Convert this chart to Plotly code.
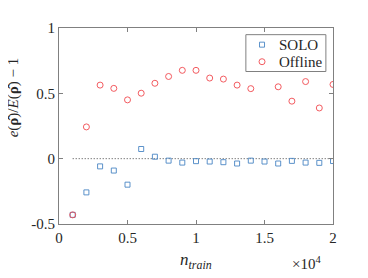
import plotly.graph_objects as go

n_train = [1000, 2000, 3000, 4000, 5000, 6000, 7000, 8000, 9000, 10000,
           11000, 12000, 13000, 14000, 15000, 16000, 17000, 18000, 19000, 20000]
solo = [-0.43, -0.258, -0.059, -0.091, -0.199, 0.074, 0.015, -0.015, -0.03, -0.019,
        -0.022, -0.027, -0.037, -0.015, -0.022, -0.037, -0.017, -0.03, -0.032, -0.018]
offline = [-0.43, 0.243, 0.563, 0.538, 0.45, 0.501, 0.577, 0.629, 0.676, 0.676,
           0.617, 0.609, 0.563, 0.536, None, 0.55, 0.44, 0.59, 0.388, 0.568]
series_names = ["SOLO", "Offline"]
x_ticks = [0, 5000, 10000, 15000, 20000]
x_ticktext = ["0", "0.5", "1", "1.5", "2"]
y_ticks = [-0.5, 0, 0.5, 1]
y_ticktext = ["-0.5", "0", "0.5", "1"]

FONT = "Liberation Serif"
AX = "#808080"
TXT = "#262626"
BLUE = "#4a86c4"
RED = "#f04a4f"
SQ = dict(symbol="square-open", size=5, color=BLUE, line=dict(width=0.9))
CI = dict(symbol="circle-open", size=6, color=RED, line=dict(width=0.9))

fig = go.Figure()
fig.add_shape(type="line", x0=n_train[0], x1=n_train[-1], y0=0, y1=0,
              line=dict(color="#444444", width=1, dash="1px,2px"), layer="below")
fig.add_trace(go.Scatter(x=n_train, y=solo, mode="markers", name=series_names[0],
                         marker=SQ, showlegend=False))
fig.add_trace(go.Scatter(x=n_train, y=offline, mode="markers", name=series_names[1],
                         marker=CI, showlegend=False))

# Hand-built legend (compact, MATLAB-like)
leg_x0, leg_x1, leg_y0, leg_y1 = 0.682, 0.974, 0.778, 0.966
key_x, text_x = 0.741, 0.796
row_y = [0.915, 0.828]
fig.add_shape(type="rect", xref="paper", yref="paper", x0=leg_x0, x1=leg_x1,
              y0=leg_y0, y1=leg_y1, line=dict(color=AX, width=1),
              fillcolor="white", layer="below")
for name, mk, yy in zip(series_names, [SQ, CI], row_y):
    fig.add_trace(go.Scatter(x=[key_x], y=[yy], mode="markers", marker=mk,
                             xaxis="x2", yaxis="y2", showlegend=False, hoverinfo="skip"))

axis_common = dict(showgrid=False, zeroline=False, showline=True, linecolor=AX,
                   linewidth=1, mirror="ticks", ticks="inside", ticklen=4,
                   tickcolor=AX, tickfont=dict(family=FONT, size=15, color=TXT))
fig.update_xaxes(range=[0, 20000], tickvals=x_ticks, ticktext=x_ticktext, **axis_common)
fig.update_yaxes(range=[-0.5, 1], tickvals=y_ticks, ticktext=y_ticktext, **axis_common)

annotations = [
    dict(text="<i>e</i>(<b>ρ̂</b>)/<i>E</i>(<b>ρ̂</b>) − 1", textangle=-90,
         xref="paper", yref="paper", x=-0.165, y=0.645,
         xanchor="center", yanchor="middle", showarrow=False,
         font=dict(family=FONT, size=15, color=TXT)),
    dict(text="<i>n</i><sub><i>train</i></sub>",
         xref="paper", yref="paper", x=0.5, y=-0.19,
         xanchor="center", yanchor="middle", showarrow=False,
         font=dict(family=FONT, size=17, color=TXT)),
    dict(text="×10<sup>4</sup>",
         xref="paper", yref="paper", x=0.964, y=-0.2,
         xanchor="right", yanchor="middle", showarrow=False,
         font=dict(family=FONT, size=15, color=TXT)),
]
for name, yy in zip(series_names, row_y):
    annotations.append(dict(text=name, xref="paper", yref="paper", x=text_x, y=yy,
                            xanchor="left", yanchor="middle", showarrow=False,
                            font=dict(family=FONT, size=15, color=TXT)))

fig.update_layout(
    width=360, height=270,
    margin=dict(l=51, r=35, t=13, b=54),
    paper_bgcolor="white", plot_bgcolor="white",
    font=dict(family=FONT, color=TXT),
    showlegend=False,
    xaxis2=dict(domain=[0, 1], range=[0, 1], visible=False, overlaying="x", anchor="y2"),
    yaxis2=dict(domain=[0, 1], range=[0, 1], visible=False, overlaying="y", anchor="x2"),
    annotations=annotations,
)

fig.write_html("out.html")
